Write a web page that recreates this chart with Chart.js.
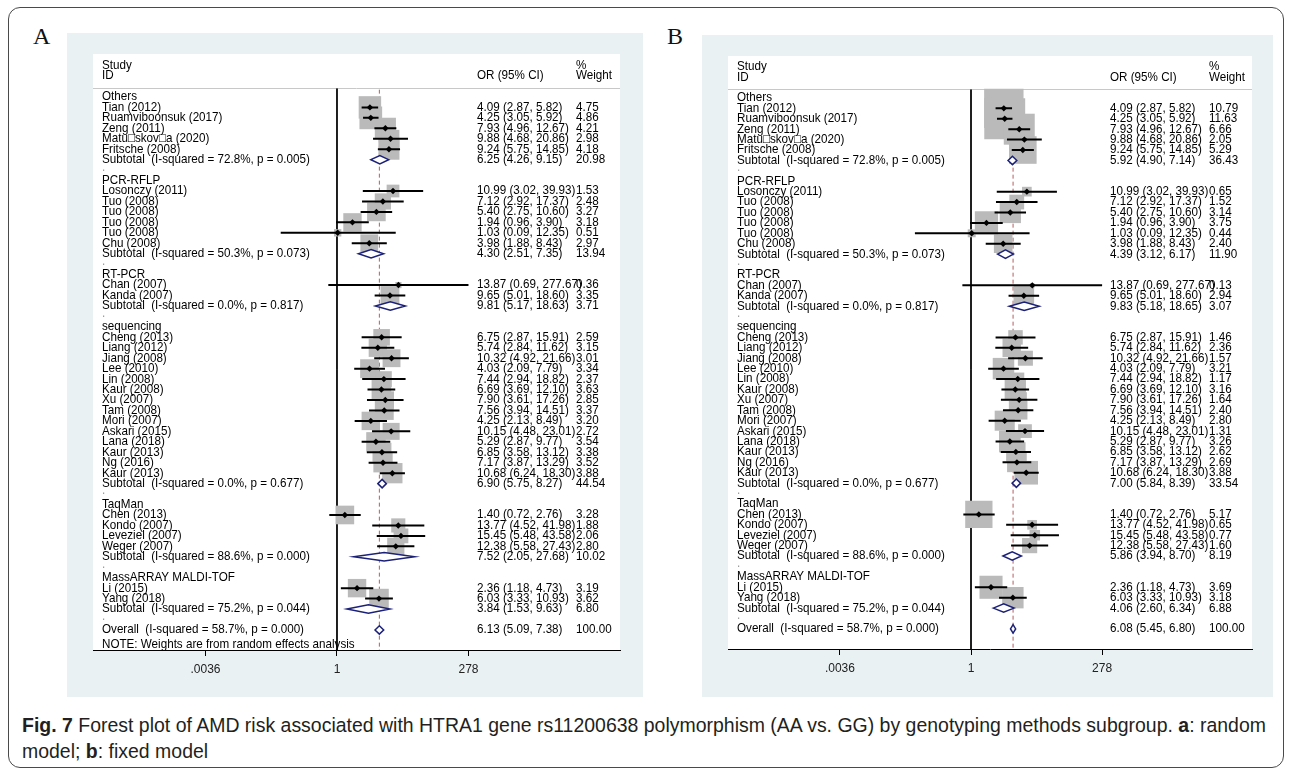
<!DOCTYPE html>
<html>
<head>
<meta charset="utf-8">
<title>Forest plot - HTRA1 rs11200638</title>
<script src="https://cdn.jsdelivr.net/npm/chart.js@4.4.0/dist/chart.umd.min.js"></script>
<style>
  body { margin: 0; background: #fff; }
  #page { position: relative; width: 1292px; height: 774px; overflow: hidden; }
  .frame { position: absolute; left: 8px; top: 7px; width: 1276px; height: 761px; box-sizing: border-box;
           border: 1.5px solid #4a4a4a; border-radius: 12px; }
  .panel-label { position: absolute; font-family: 'Liberation Serif', 'Times New Roman', serif;
                 font-size: 24px; line-height: 24px; color: #111; }
  canvas { position: absolute; background: #e9f1f3; }
  #caption { position: absolute; left: 22px; top: 712px; font-family: 'Liberation Sans Narrow', 'Liberation Sans', Arial, sans-serif;
             font-size: 20.5px; line-height: 26px; color: #231f20; white-space: nowrap; transform-origin: 0 0; }
</style>
</head>
<body>
<div id="page">
  <div class="frame"></div>
  <div class="panel-label" style="left:33px; top:24px;">A</div>
  <div class="panel-label" style="left:667px; top:24px;">B</div>
  <canvas id="forestA" width="576" height="664" style="left:67px; top:33px; width:576px; height:664px;"></canvas>
  <canvas id="forestB" width="571" height="662" style="left:702px; top:35px; width:571px; height:662px;"></canvas>
  <div id="caption"><span id="cap1"><b>Fig. 7</b> Forest plot of AMD risk associated with HTRA1 gene rs11200638 polymorphism (AA vs. GG) by genotyping methods subgroup. <b>a</b>: random</span><br><span id="cap2">model; <b>b</b>: fixed model</span></div>
</div>
<script>
// rows, top to bottom
const groupNames = ['Others', 'PCR-RFLP', 'RT-PCR', 'sequencing', 'TaqMan', 'MassARRAY MALDI-TOF'];
const rowLabels = [
  'Others', 'Tian (2012)', 'Ruamviboonsuk (2017)', 'Zeng (2011)', 'Matu\u25a1skov\u25a1a (2020)', 'Fritsche (2008)',
  'Subtotal  (I-squared = 72.8%, p = 0.005)', '.',
  'PCR-RFLP', 'Losonczy (2011)', 'Tuo (2008)', 'Tuo (2008)', 'Tuo (2008)', 'Tuo (2008)', 'Chu (2008)',
  'Subtotal  (I-squared = 50.3%, p = 0.073)', '.',
  'RT-PCR', 'Chan (2007)', 'Kanda (2007)',
  'Subtotal  (I-squared = 0.0%, p = 0.817)', '.',
  'sequencing', 'Cheng (2013)', 'Liang (2012)', 'Jiang (2008)', 'Lee (2010)', 'Lin (2008)', 'Kaur (2008)', 'Xu (2007)',
  'Tam (2008)', 'Mori (2007)', 'Askari (2015)', 'Lana (2018)', 'Kaur (2013)', 'Ng (2016)', 'Kaur (2013)',
  'Subtotal  (I-squared = 0.0%, p = 0.677)', '.',
  'TaqMan', 'Chen (2013)', 'Kondo (2007)', 'Leveziel (2007)', 'Weger (2007)',
  'Subtotal  (I-squared = 88.6%, p = 0.000)', '.',
  'MassARRAY MALDI-TOF', 'Li (2015)', 'Yang (2018)',
  'Subtotal  (I-squared = 75.2%, p = 0.044)', '.',
  'Overall  (I-squared = 58.7%, p = 0.000)'
];

// single studies (same in both panels)
const studyOR = [4.09, 4.25, 7.93, 9.88, 9.24, 10.99, 7.12, 5.40, 1.94, 1.03, 3.98, 13.87, 9.65,
  6.75, 5.74, 10.32, 4.03, 7.44, 6.69, 7.90, 7.56, 4.25, 10.15, 5.29, 6.85, 7.17, 10.68, 1.40, 13.77, 15.45, 12.38, 2.36, 6.03];
const studyLo = [2.87, 3.05, 4.96, 4.68, 5.75, 3.02, 2.92, 2.75, 0.96, 0.09, 1.88, 0.69, 5.01,
  2.87, 2.84, 4.92, 2.09, 2.94, 3.69, 3.61, 3.94, 2.13, 4.48, 2.87, 3.58, 3.87, 6.24, 0.72, 4.52, 5.48, 5.58, 1.18, 3.33];
const studyHi = [5.82, 5.92, 12.67, 20.86, 14.85, 39.93, 17.37, 10.60, 3.90, 12.35, 8.43, 277.67, 18.60,
  15.91, 11.62, 21.66, 7.79, 18.82, 12.10, 17.26, 14.51, 8.49, 23.01, 9.77, 13.12, 13.29, 18.30, 2.76, 41.98, 43.58, 27.43, 4.73, 10.93];

// % weight, random (A) and fixed (B)
const weightA = [4.75, 4.86, 4.21, 2.98, 4.18, 1.53, 2.48, 3.27, 3.18, 0.51, 2.97, 0.36, 3.35,
  2.59, 3.15, 3.01, 3.34, 2.37, 3.63, 2.85, 3.37, 3.20, 2.72, 3.54, 3.38, 3.52, 3.88, 3.28, 1.88, 2.06, 2.80, 3.19, 3.62];
const weightB = [10.79, 11.63, 6.66, 2.05, 5.29, 0.65, 1.52, 3.14, 3.75, 0.44, 2.40, 0.13, 2.94,
  1.46, 2.36, 1.57, 3.21, 1.17, 3.16, 1.64, 2.40, 2.80, 1.31, 3.26, 2.62, 2.69, 3.88, 5.17, 0.65, 0.77, 1.60, 3.69, 3.18];

// subtotals + overall
const pooledOrA = [6.25, 4.30, 9.81, 6.90, 7.52, 3.84, 6.13];
const pooledLoA = [4.26, 2.51, 5.17, 5.75, 2.05, 1.53, 5.09];
const pooledHiA = [9.15, 7.35, 18.63, 8.27, 27.68, 9.63, 7.38];
const pooledWA  = [20.98, 13.94, 3.71, 44.54, 10.02, 6.80, 100.00];
const pooledOrB = [5.92, 4.39, 9.83, 7.00, 5.86, 4.06, 6.08];
const pooledLoB = [4.90, 3.12, 5.18, 5.84, 3.94, 2.60, 5.45];
const pooledHiB = [7.14, 6.17, 18.65, 8.39, 8.70, 6.34, 6.80];
const pooledWB  = [36.43, 11.90, 3.07, 33.54, 8.19, 6.88, 100.00];

const xTicks = [0.0036, 1, 278];
const xTickLabels = ['.0036', '1', '278'];

const FONT = '"Liberation Sans", Arial, sans-serif';

function buildRows(weights, pOr, pLo, pHi, pW) {
  const rows = [];
  let s = 0, p = 0;
  rowLabels.forEach((label, i) => {
    const r = i + 1;
    if (label === '.') rows.push({ r, label, kind: 'blank' });
    else if (groupNames.includes(label)) rows.push({ r, label, kind: 'group' });
    else if (label.startsWith('Subtotal') || label.startsWith('Overall')) {
      rows.push({ r, label, kind: 'pool', or: pOr[p], lo: pLo[p], hi: pHi[p], w: pW[p] });
      p++;
    } else {
      rows.push({ r, label, kind: 'study', or: studyOR[s], lo: studyLo[s], hi: studyHi[s], w: weights[s] });
      s++;
    }
  });
  return rows;
}

// stata text is a bit tall and narrow
function putText(ctx, str, x, y) {
  ctx.save();
  ctx.translate(x, y);
  ctx.scale(0.94, 1);
  ctx.fillText(str, 0, 0);
  ctx.restore();
}

const forestPlugin = {
  id: 'forest',
  beforeDraw(chart) {
    const { ctx, chartArea: a } = chart;
    ctx.save();
    ctx.fillStyle = '#fff';
    ctx.fillRect(a.left, a.top, a.right - a.left, a.bottom - a.top);
    // header separator
    const ys = Math.round(chart.scales.y.getPixelForValue(0.15)) + 0.5;
    ctx.strokeStyle = '#c8c8c8';
    ctx.lineWidth = 1;
    ctx.beginPath();
    ctx.moveTo(a.left, ys);
    ctx.lineTo(a.right, ys);
    ctx.stroke();
    ctx.restore();
  },
  afterDatasetsDraw(chart, args, opts) {
    const { ctx, chartArea: a } = chart;
    const xs = chart.scales.x, ys = chart.scales.y;
    ctx.save();
    // pooled diamonds
    ctx.strokeStyle = '#1c2178';
    ctx.fillStyle = '#fff';
    ctx.lineWidth = 1.5;
    opts.rows.filter(d => d.kind === 'pool').forEach(d => {
      const y = ys.getPixelForValue(d.r);
      const x0 = xs.getPixelForValue(d.lo), xm = xs.getPixelForValue(d.or), x1 = xs.getPixelForValue(d.hi);
      ctx.beginPath();
      ctx.moveTo(x0, y);
      ctx.lineTo(xm, y - 4.2);
      ctx.lineTo(x1, y);
      ctx.lineTo(xm, y + 4.2);
      ctx.closePath();
      ctx.fill();
      ctx.stroke();
    });
    // text columns
    ctx.font = '12.4px ' + FONT;
    ctx.fillStyle = '#000';
    ctx.textBaseline = 'middle';
    ctx.textAlign = 'left';
    const [cS, cOR, cW] = opts.cols.map(c => a.left + c);
    const yy = r => ys.getPixelForValue(r);
    putText(ctx, 'Study', cS, yy(-2));
    putText(ctx, 'ID', cS, yy(-1));
    putText(ctx, 'OR (95% CI)', cOR, yy(-1));
    putText(ctx, '%', cW, yy(-2));
    putText(ctx, 'Weight', cW, yy(-1));
    opts.rows.forEach(d => {
      if (d.kind === 'blank') {
        ctx.fillStyle = '#999';
        putText(ctx, '.', cS, yy(d.r) - 3);
        ctx.fillStyle = '#000';
        return;
      }
      putText(ctx, d.label, cS, yy(d.r));
      if (d.or != null) {
        putText(ctx, d.or.toFixed(2) + ' (' + d.lo.toFixed(2) + ', ' + d.hi.toFixed(2) + ')', cOR, yy(d.r));
        putText(ctx, d.w.toFixed(2), cW, yy(d.r));
      }
    });
    if (opts.note) putText(ctx, opts.note, cS, yy(opts.noteRow));
    ctx.restore();
  }
};

function makeForest(id, weights, pOr, pLo, pHi, pW, geo) {
  const rows = buildRows(weights, pOr, pLo, pHi, pW);
  const studies = rows.filter(d => d.kind === 'study');
  const overall = rows[rows.length - 1];
  const ciData = [];
  studies.forEach(d => {
    ciData.push({ x: d.lo, y: d.r }, { x: d.hi, y: d.r }, { x: NaN, y: null });
  });
  const yMax = geo.yMax;

  new Chart(document.getElementById(id), {
    type: 'scatter',
    data: {
      datasets: [
        { // studies: dot
          data: studies.map(d => ({ x: d.or, y: d.r })),
          pointStyle: 'rectRot', pointRadius: 3.2, backgroundColor: '#000', borderWidth: 0, order: 1
        },
        { // confidence intervals
          data: ciData, showLine: true, spanGaps: false, borderColor: '#000', borderWidth: 2,
          pointRadius: 0, order: 2
        },
        { // weight boxes
          data: studies.map(d => ({ x: d.or, y: d.r })),
          pointStyle: 'rect', pointRadius: studies.map(d => geo.boxK * Math.sqrt(d.w) / Math.SQRT2),
          backgroundColor: '#bababa', borderWidth: 0, order: 3
        },
        { // overall estimate
          data: [{ x: overall.or, y: 0.3 }, { x: overall.or, y: yMax }], showLine: true,
          borderColor: '#b0605e', borderWidth: 1, borderDash: [4, 3], pointRadius: 0, order: 4
        },
        { // no effect
          data: [{ x: 1, y: 0.2 }, { x: 1, y: yMax }], showLine: true,
          borderColor: '#000', borderWidth: 1, pointRadius: 0, order: 5
        }
      ]
    },
    options: {
      responsive: false,
      animation: false,
      devicePixelRatio: 1,
      layout: { padding: geo.padding, autoPadding: false },
      plugins: {
        legend: { display: false },
        tooltip: { enabled: false },
        forest: { rows, cols: geo.cols, note: geo.note, noteRow: geo.noteRow }
      },
      scales: {
        x: {
          type: 'logarithmic',
          min: Math.exp(geo.lnMin),
          max: Math.exp(geo.lnMax),
          afterBuildTicks: s => { s.ticks = xTicks.map(v => ({ value: v })); },
          afterFit: s => { s.height = 30; },
          ticks: {
            callback: (v, i) => xTickLabels[i],
            font: { family: FONT, size: 12 },
            color: '#222',
            padding: 6,
            maxRotation: 0,
            autoSkip: false
          },
          grid: { drawOnChartArea: false, drawTicks: true, tickLength: 6, color: '#000' },
          border: { display: true, color: '#000', width: 1 }
        },
        y: { type: 'linear', reverse: true, min: geo.yMin, max: yMax, display: false }
      }
    },
    plugins: [forestPlugin]
  });
}

makeForest('forestA', weightA, pooledOrA, pooledLoA, pooledHiA, pooledWA, {
  padding: { left: 26, right: 23, top: 21, bottom: 17 },
  lnMin: -10.44, lnMax: 12.11, yMin: -3.11, yMax: 53.92,
  cols: [9, 384, 483], boxK: 10.3,
  note: 'NOTE: Weights are from random effects analysis', noteRow: 53.4
});

makeForest('forestB', weightB, pooledOrB, pooledLoB, pooledHiB, pooledWB, {
  padding: { left: 26, right: 21, top: 21, bottom: 18 },
  lnMin: -10.43, lnMax: 12.06, yMin: -3.03, yMax: 53.93,
  cols: [9, 382, 481], boxK: 12
});

// squeeze caption to the printed width
const cap = document.getElementById('caption');
const w1 = document.getElementById('cap1').offsetWidth;
cap.style.transform = 'scaleX(' + (1244 / w1) + ')';
</script>
</body>
</html>
